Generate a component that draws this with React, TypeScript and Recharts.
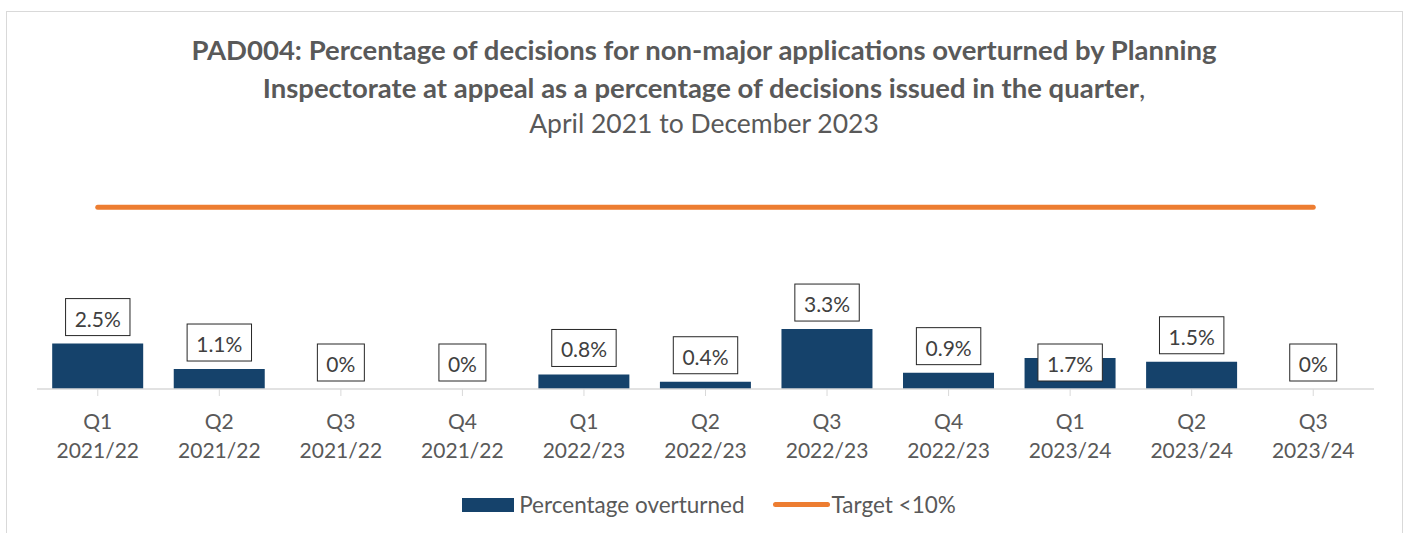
import React from "react";
import { ComposedChart, Bar, Line, XAxis, YAxis } from "recharts";

// quarters and results
const quarters = ["Q1", "Q2", "Q3", "Q4", "Q1", "Q2", "Q3", "Q4", "Q1", "Q2", "Q3"];
const years = [
  "2021/22", "2021/22", "2021/22", "2021/22",
  "2022/23", "2022/23", "2022/23", "2022/23",
  "2023/24", "2023/24", "2023/24",
];
const overturned = [2.5, 1.1, 0, 0, 0.8, 0.4, 3.3, 0.9, 1.7, 1.5, 0];
const valueLabels = ["2.5%", "1.1%", "0%", "0%", "0.8%", "0.4%", "3.3%", "0.9%", "1.7%", "1.5%", "0%"];
const target = [10, 10, 10, 10, 10, 10, 10, 10, 10, 10, 10];

const data = quarters.map((q, i) => ({
  name: `${q} ${years[i]}`,
  quarter: q,
  year: years[i],
  overturned: overturned[i],
  label: valueLabels[i],
  target: target[i],
}));

const FONT = "Lato, 'Open Sans', sans-serif";
const GREY = "#595959";
const NAVY = "#15426b";
const ORANGE = "#ed7d31";

const W = 1408;
const H = 533;
const BASE_Y = 389;

// rough text width for Lato at the label size
function textWidth(s: string, size: number) {
  let w = 0;
  for (const c of s) {
    if (c === "%") w += 0.8 * size;
    else if (c === ".") w += 0.25 * size;
    else w += 0.58 * size;
  }
  return w;
}

// boxed data label; drawn off an invisible line so zero values get one too
function ValueBox(props: any) {
  const { x, y, index } = props;
  if (x == null || y == null) return null;
  const text = valueLabels[index];
  const size = 21;
  const bw = textWidth(text, size) + 18;
  const bh = 37;
  // the 1.7% label was dragged down onto the bar in the original
  const bottom = index === 8 ? BASE_Y - 8 : y - 8;
  return (
    <g key={`lbl-${index}`}>
      <rect x={x - bw / 2} y={bottom - bh} width={bw} height={bh} fill="#fff" stroke="#262626" strokeWidth={1} />
      <text x={x} y={bottom - bh / 2 + 1} textAnchor="middle" dominantBaseline="central"
        fontSize={size} fontFamily={FONT} fill="#404040">
        {text}
      </text>
    </g>
  );
}

function TwoLineTick(props: any) {
  const { x, y, index } = props;
  return (
    <g>
      <text x={x} y={y + 31} textAnchor="middle" fontSize={21} fontFamily={FONT} fill={GREY}>
        {quarters[index]}
      </text>
      <text x={x} y={y + 60} textAnchor="middle" fontSize={21} fontFamily={FONT} fill={GREY}>
        {years[index]}
      </text>
    </g>
  );
}

export default function App() {
  return (
    <div style={{ position: "absolute", left: 0, top: 0, width: W, height: H, background: "#fff", overflow: "hidden" }}>
      <div style={{
        position: "absolute", left: 6, top: 11, width: 1397, height: 540,
        border: "1px solid #d9d9d9", boxSizing: "border-box",
      }} />
      <div style={{
        position: "absolute", left: 0, top: 31, width: W, textAlign: "center",
        fontFamily: FONT, color: GREY,
      }}>
        <div style={{ fontWeight: 700, fontSize: 27.5, lineHeight: "38px" }}>
          PAD004: Percentage of decisions for non-major applications overturned by Planning
        </div>
        <div style={{ fontSize: 27.5, lineHeight: "38px" }}>
          <span style={{ fontWeight: 700 }}>
            Inspectorate at appeal as a percentage of decisions issued in the quarter
          </span>,
        </div>
        <div style={{ fontSize: 26.5, lineHeight: "32px" }}>April 2021 to December 2023</div>
      </div>

      <div style={{ position: "absolute", left: 0, top: 0 }}>
        <ComposedChart width={W} height={H} data={data}
          margin={{ top: 171, right: 34, bottom: H - BASE_Y - 75, left: 37 }}
          barCategoryGap="12.5%">
          <YAxis hide domain={[0, 12]} />
          <XAxis dataKey="name" height={75} interval={0}
            stroke="#d9d9d9" tickLine={{ stroke: "#d9d9d9" }} tickSize={7}
            axisLine={{ stroke: "#d9d9d9", strokeWidth: 1.5 }}
            tick={<TwoLineTick />} />
          <Bar dataKey="overturned" fill={NAVY} isAnimationActive={false} />
          <Line dataKey="overturned" stroke="none" dot={false} activeDot={false}
            label={<ValueBox />} isAnimationActive={false} legendType="none" />
          <Line dataKey="target" stroke={ORANGE} strokeWidth={5} strokeLinecap="round"
            dot={false} activeDot={false} isAnimationActive={false} />
        </ComposedChart>
      </div>

      <div style={{
        position: "absolute", left: 0, top: 491, width: W, display: "flex", paddingLeft: 10,
        boxSizing: "border-box",
        justifyContent: "center", alignItems: "center", fontFamily: FONT, fontSize: 22.5, color: GREY,
      }}>
        <span style={{ display: "inline-block", width: 52, height: 14, background: NAVY, marginRight: 5 }} />
        <span>Percentage overturned</span>
        <span style={{ display: "inline-block", width: 57, height: 5, borderRadius: 3, background: ORANGE, marginLeft: 28, marginRight: 2 }} />
        <span>Target &lt;10%</span>
      </div>
    </div>
  );
}
